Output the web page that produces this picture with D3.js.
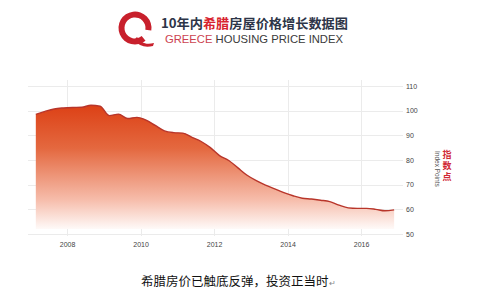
<!DOCTYPE html>
<html>
<head>
<meta charset="utf-8">
<script src="https://cdn.jsdelivr.net/npm/d3@7"></script>
<style>
  body { margin: 0; background: #fff; }
  svg { display: block; font-family: "Liberation Sans", Arial, sans-serif; }
</style>
</head>
<body>
<svg id="chart" width="480" height="300"></svg>
<script>
// quarterly readings, decimal year
const dates = [
  2007.15, 2007.40, 2007.65, 2007.90, 2008.15, 2008.40, 2008.65, 2008.90,
  2009.15, 2009.40, 2009.65, 2009.90, 2010.15, 2010.40, 2010.65, 2010.90,
  2011.15, 2011.40, 2011.65, 2011.90, 2012.15, 2012.40, 2012.65, 2012.90,
  2013.15, 2013.40, 2013.65, 2013.90, 2014.15, 2014.40, 2014.65, 2014.90,
  2015.15, 2015.40, 2015.65, 2015.90, 2016.15, 2016.40, 2016.65, 2016.90
]
const index = [
  98.5, 99.7, 100.7, 101.1, 101.3, 101.4, 102.2, 101.8,
  98.0, 98.6, 96.8, 97.3, 96.2, 94.0, 91.8, 91.1,
  90.9, 89.2, 87.5, 85.0, 81.8, 79.8, 76.8, 73.8,
  71.6, 69.8, 68.3, 66.8, 65.5, 64.5, 64.2, 63.7,
  63.1, 61.7, 60.6, 60.4, 60.4, 60.0, 59.4, 59.8
]
const xTicks = [2008, 2010, 2012, 2014, 2016]
const yTicks = [50, 60, 70, 80, 90, 100, 110]

const svg = d3.select('#chart')

const x = d3.scaleLinear().domain([2007, 2017]).range([30.3, 397.8])
const y = d3.scaleLinear().domain([50, 110]).range([234, 86])

const defs = svg.append('defs')
const grad = defs.append('linearGradient')
  .attr('id', 'fill')
  .attr('gradientUnits', 'userSpaceOnUse')
  .attr('x1', 0).attr('y1', y(103))
  .attr('x2', 0).attr('y2', y(51))
grad.append('stop').attr('offset', 0).attr('stop-color', '#dc3f14')
grad.append('stop').attr('offset', 0.35).attr('stop-color', '#e4683f')
grad.append('stop').attr('offset', 0.75).attr('stop-color', '#f6bcaa')
grad.append('stop').attr('offset', 1).attr('stop-color', '#ffffff')

// grid
const grid = svg.append('g').attr('stroke', '#ebebeb').attr('stroke-width', 1)
grid.selectAll('line.h')
  .data(yTicks)
  .join('line')
  .attr('class', 'h')
  .attr('x1', 28).attr('x2', 403)
  .attr('y1', d => Math.round(y(d)) + 0.5)
  .attr('y2', d => Math.round(y(d)) + 0.5)
grid.selectAll('line.v')
  .data(xTicks)
  .join('line')
  .attr('class', 'v')
  .attr('x1', d => Math.round(x(d)) + 0.5)
  .attr('x2', d => Math.round(x(d)) + 0.5)
  .attr('y1', 80).attr('y2', 236)

const pts = dates.map((d, i) => [d, index[i]])

const area = d3.area()
  .x(d => x(d[0]))
  .y0(y(52))
  .y1(d => y(d[1]))
  .curve(d3.curveMonotoneX)

const line = d3.line()
  .x(d => x(d[0]))
  .y(d => y(d[1]))
  .curve(d3.curveMonotoneX)

svg.append('path')
  .datum(pts)
  .attr('d', area)
  .attr('fill', 'url(#fill)')

svg.append('path')
  .datum(pts)
  .attr('d', line)
  .attr('fill', 'none')
  .attr('stroke', '#b8352a')
  .attr('stroke-width', 1.4)

// axes
const xAxis = svg.append('g')
  .attr('transform', 'translate(0,234)')
  .call(d3.axisBottom(x).tickValues(xTicks).tickFormat(d3.format('d')).tickSize(0).tickPadding(8))
xAxis.select('.domain').remove()
xAxis.selectAll('text').attr('font-size', 7).attr('fill', '#444')

const yAxis = svg.append('g')
  .attr('transform', 'translate(406,0)')
  .call(d3.axisRight(y).tickValues(yTicks).tickSize(0).tickPadding(0))
yAxis.select('.domain').remove()
yAxis.selectAll('text').attr('font-size', 7).attr('fill', '#444')

// right axis title
svg.append('text')
  .attr('transform', 'translate(435,151) rotate(90)')
  .attr('font-size', 6.5)
  .attr('fill', '#555')
  .text('Index Points')

// vertical chinese label, upright glyphs
svg.append('text')
  .attr('x', 447)
  .attr('y', 150)
  .attr('font-size', 9)
  .attr('font-weight', 'bold')
  .attr('font-family', '"Noto Sans CJK SC", sans-serif')
  .attr('fill', '#d02a35')
  .attr('letter-spacing', 2)
  .style('writing-mode', 'vertical-rl')
  .style('text-orientation', 'upright')
  .text('指数点')

// header: logo
const logo = svg.append('g').attr('transform', 'translate(135,28)')
logo.append('path')
  .attr('d', d3.arc()({ innerRadius: 10.5, outerRadius: 16.5, startAngle: Math.PI * 0.78, endAngle: Math.PI * 2.55 }))
  .attr('fill', '#c8202c')
logo.append('path')
  .attr('d', 'M2,9 C6,15 11,17 19,15 L18,18 C10,20 4,18 -1,12 Z')
  .attr('fill', '#c8202c')

const title = svg.append('text')
  .attr('x', 161)
  .attr('y', 28)
  .attr('font-size', 13)
  .attr('font-weight', 'bold')
  .attr('font-family', '"Noto Sans CJK SC", sans-serif')
  .attr('fill', '#2d3548')
  .attr('textLength', 187)
  .attr('lengthAdjust', 'spacingAndGlyphs')
title.append('tspan').text('10年内')
title.append('tspan').attr('fill', '#d8232f').text('希腊')
title.append('tspan').text('房屋价格增长数据图')

const sub = svg.append('text')
  .attr('x', 165)
  .attr('y', 42.5)
  .attr('font-size', 11.5)
  .attr('fill', '#3a3a3a')
  .attr('textLength', 178)
  .attr('lengthAdjust', 'spacingAndGlyphs')
sub.append('tspan').attr('fill', '#cc4350').text('GREECE')
sub.append('tspan').text(' HOUSING PRICE INDEX')

// caption
const cap = svg.append('text')
  .attr('x', 141)
  .attr('y', 286)
  .attr('font-size', 12.5)
  .attr('font-family', '"Noto Sans CJK SC", sans-serif')
  .attr('fill', '#111')
cap.append('tspan').text('希腊房价已触底反弹，投资正当时')
cap.append('tspan').attr('font-size', 8).attr('fill', '#888').text('↵')
</script>
</body>
</html>
